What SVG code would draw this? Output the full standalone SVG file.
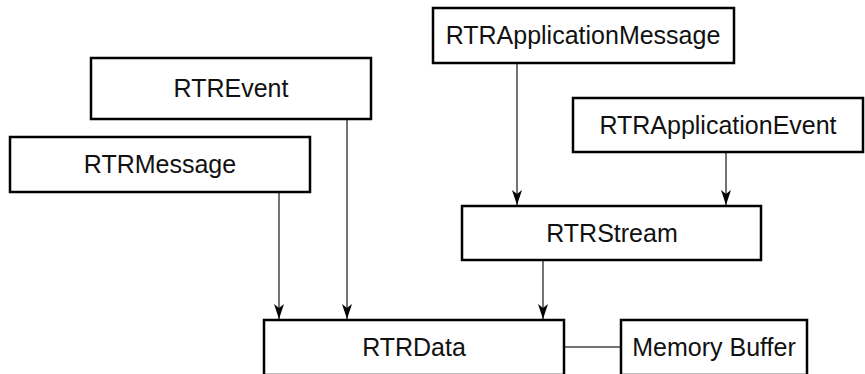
<svg xmlns="http://www.w3.org/2000/svg" width="865" height="374" viewBox="0 0 865 374">
<style>
.box{fill:#fff;stroke:#000;stroke-width:2.5}
.lbl{font-family:"Liberation Sans",Arial,sans-serif;font-size:25px;fill:#111;text-anchor:middle}
.con{stroke:#444;stroke-width:1.5;fill:none}
</style>
<defs>
<marker id="ah" markerWidth="16" markerHeight="10" refX="15" refY="5" orient="auto" markerUnits="userSpaceOnUse" viewBox="0 0 16 10">
<path d="M0,0 L15,5 L0,10 L4,5 Z" fill="#000"/>
</marker>
</defs>
<rect width="865" height="374" fill="#fff"/>
<g id="connectors">
<line class="con" x1="279" y1="192" x2="279" y2="319" marker-end="url(#ah)"/>
<line class="con" x1="347" y1="118" x2="347" y2="319" marker-end="url(#ah)"/>
<line class="con" x1="517" y1="63" x2="517" y2="205" marker-end="url(#ah)"/>
<line class="con" x1="726" y1="152" x2="726" y2="205" marker-end="url(#ah)"/>
<line class="con" x1="543" y1="260" x2="543" y2="319" marker-end="url(#ah)"/>
<line class="con" x1="564" y1="347" x2="621" y2="347"/>
</g>
<g id="RTREvent"><rect class="box" x="91" y="58" width="280" height="61"/><text class="lbl" x="231" y="97">RTREvent</text></g>
<g id="RTRMessage"><rect class="box" x="10" y="137" width="300" height="55"/><text class="lbl" x="160" y="173">RTRMessage</text></g>
<g id="RTRApplicationMessage"><rect class="box" x="433" y="8" width="301" height="55"/><text class="lbl" x="583" y="44">RTRApplicationMessage</text></g>
<g id="RTRApplicationEvent"><rect class="box" x="573" y="98" width="290" height="54"/><text class="lbl" x="718" y="134">RTRApplicationEvent</text></g>
<g id="RTRStream"><rect class="box" x="462" y="206" width="299" height="54"/><text class="lbl" x="612" y="242">RTRStream</text></g>
<g id="RTRData"><rect class="box" x="264" y="320" width="300" height="55"/><text class="lbl" x="414" y="356">RTRData</text></g>
<g id="MemoryBuffer"><rect class="box" x="621" y="320" width="186" height="55"/><text class="lbl" x="714" y="356">Memory Buffer</text></g>
</svg>
